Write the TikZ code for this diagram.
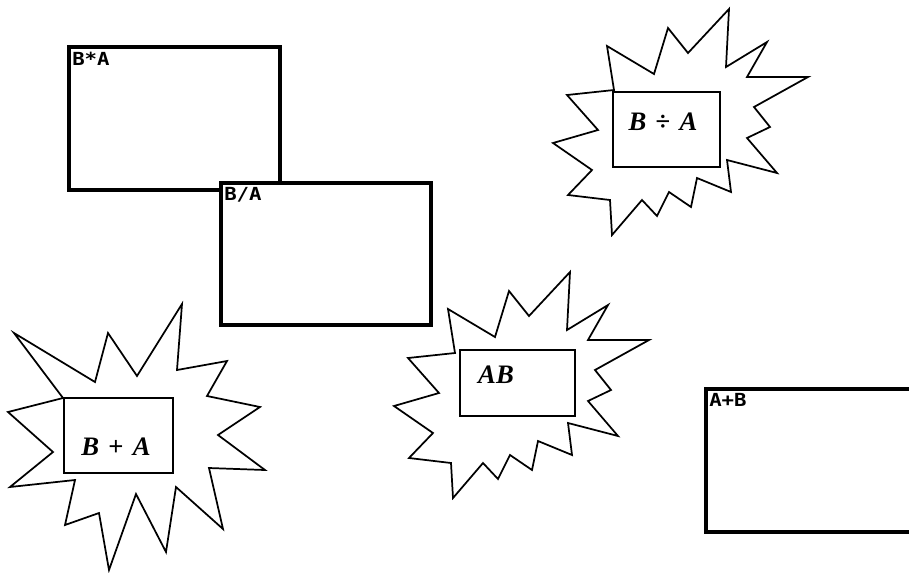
\documentclass[tikz,border=0pt]{standalone}
\usepackage{fontspec}
\usepackage{graphicx}
\newfontfamily\eqfont{Liberation Serif}
\newfontfamily\calcfont{DejaVu Sans Mono}
\begin{document}
\begin{tikzpicture}[x=0.75pt,y=-0.75pt,
  screen/.style={draw=black,line width=2.6pt,fill=white},
  burstline/.style={draw=black,line width=1.3pt,fill=white,line join=miter},
  innerbox/.style={draw=black,line width=1.5pt,fill=white},
  calc/.style={anchor=north west,inner sep=0pt,font=\calcfont\bfseries\fontsize{13.5}{13.5}\selectfont},
  eq/.style={anchor=base,inner sep=0pt,font=\eqfont\bfseries\itshape\fontsize{20}{20}\selectfont},
  starburst/.pic={
    \draw[burstline] (614,90) -- (607,46) -- (654,74) -- (668,28) -- (688,53) -- (729,9)
      -- (726,67) -- (767,42) -- (747,77) -- (808,77) -- (754,107) -- (770,127)
      -- (747,138) -- (777,173) -- (727,160) -- (731,192) -- (697,178) -- (691,207)
      -- (669,192) -- (657,216) -- (642,200) -- (612,235) -- (610,200) -- (568,195)
      -- (592,170) -- (553,143) -- (598,130) -- (567,95) -- cycle;
  }]
\useasboundingbox (0,0) rectangle (909,572);
\clip (0,0) rectangle (909,572);

% calculator screens
\draw[screen] (69,47) rectangle (280,190);
\node[calc] (lba) at (72,52) {\scalebox{1.15}[1]{B*A}};
\draw[screen] (221,183) rectangle (431,325);
\node[calc] (lbdiva) at (224,187) {\scalebox{1.15}[1]{B/A}};
\draw[screen] (706,389) rectangle (930,532);
\node[calc] (lapb) at (709,393) {\scalebox{1.15}[1]{A+B}};

% burst 1: B / A
\pic at (0,0) {starburst};
\draw[innerbox] (613,92) rectangle (720,167);
\node[eq] (tdiv) at (663,130.5) {B\hspace{0.35em}{\upshape\bfseries ÷}\hspace{0.35em}A};

% burst 3: AB
\pic at (-159,263) {starburst};
\draw[innerbox] (460,350) rectangle (575,416);
\node[eq] (tab) at (496,383) {AB};

% burst 2: B + A
\draw[burstline] (63,398) -- (14,333) -- (95,382) -- (108,333) -- (137,376) -- (182,304)
  -- (177,370) -- (227,361) -- (207,396) -- (260,407) -- (218,435) -- (265,470)
  -- (209,468) -- (223,529) -- (176,487) -- (166,552) -- (136,494) -- (109,570)
  -- (99,513) -- (65,525) -- (75,480) -- (10,487) -- (53,452) -- (8,412) -- cycle;
\draw[innerbox] (64,398) rectangle (173,473);
\node[eq] (tsum) at (116,455) {B\hspace{0.35em}{\upshape\bfseries +}\hspace{0.35em}A};
\end{tikzpicture}
\end{document}
